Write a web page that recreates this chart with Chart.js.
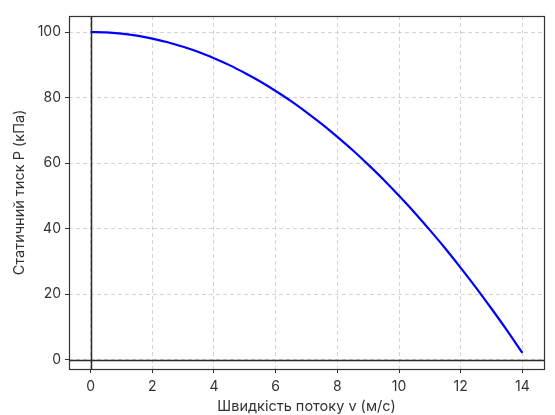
<!DOCTYPE html>
<html>
<head>
<meta charset="utf-8">
<script src="https://cdn.jsdelivr.net/npm/chart.js@4"></script>
<style>
  html, body { margin: 0; padding: 0; background: #fff; }
  #wrap { width: 555px; height: 415px; }
</style>
</head>
<body>
<div id="wrap"><canvas id="chart" width="555" height="415"></canvas></div>
<script>
// Velocity (m/s) and static pressure (kPa)
const velocity = [0, 0.5, 1, 1.5, 2, 2.5, 3, 3.5, 4, 4.5, 5, 5.5, 6, 6.5, 7,
                  7.5, 8, 8.5, 9, 9.5, 10, 10.5, 11, 11.5, 12, 12.5, 13, 13.5, 14];
const pressure = [100, 99.9, 99.5, 98.9, 98, 96.9, 95.5, 93.9, 92, 89.9, 87.5,
                  84.9, 82, 78.9, 75.5, 71.9, 68, 63.9, 59.5, 54.9, 50, 44.9,
                  39.5, 33.9, 28, 21.9, 15.5, 8.9, 2];
const xTicks = [0, 2, 4, 6, 8, 10, 12, 14];
const yTicks = [0, 20, 40, 60, 80, 100];

const xLabel = 'Швидкість потоку v (м/с)';
const yLabel = 'Статичний тиск P (кПа)';

const FONT = "Inter, 'DejaVu Sans', sans-serif";

// frame around the plot and the zero lines (axhline / axvline)
const framePlugin = {
    id: 'frame',
    afterDatasetsDraw(chart) {
        const { ctx, chartArea: a, scales } = chart;
        ctx.save();
        ctx.strokeStyle = '#2a2a2a';
        ctx.lineWidth = 1.5;
        const x0 = Math.round(scales.x.getPixelForValue(0)) + 0.5;
        const y0 = Math.round(scales.y.getPixelForValue(0)) + 0.5;
        ctx.beginPath();
        ctx.moveTo(x0, a.top); ctx.lineTo(x0, a.bottom);
        ctx.moveTo(a.left, y0); ctx.lineTo(a.right, y0);
        ctx.stroke();
        ctx.strokeStyle = '#333';
        ctx.lineWidth = 1.2;
        ctx.strokeRect(a.left + 0.5, a.top + 0.5, a.right - a.left, a.bottom - a.top);
        ctx.restore();
    }
};

const gridOpts = {
    color: '#d4d4d4',
    tickLength: 4,
    tickColor: '#333',
    tickBorderDash: []
};
const borderOpts = { display: false, dash: [4, 3] };

new Chart(document.getElementById('chart'), {
    type: 'line',
    data: {
        datasets: [{
            data: velocity.map((v, i) => ({ x: v, y: pressure[i] })),
            borderColor: '#0000ff',
            borderWidth: 2.2,
            pointRadius: 0,
            tension: 0.3,
            fill: false
        }]
    },
    options: {
        responsive: false,
        animation: false,
        layout: { padding: { top: 16, right: 11, left: 0, bottom: 0 } },
        plugins: { legend: { display: false }, tooltip: { enabled: false } },
        scales: {
            x: {
                type: 'linear',
                min: -0.7,
                max: 14.7,
                afterBuildTicks: s => { s.ticks = xTicks.map(v => ({ value: v })); },
                afterFit: s => { s.height = 46; },
                grid: gridOpts,
                border: borderOpts,
                ticks: { color: '#333', font: { family: FONT, size: 14 }, padding: 5 },
                title: {
                    display: true, text: xLabel, color: '#333',
                    font: { family: FONT, size: 14.5 }, padding: { top: 2, bottom: 0 }
                }
            },
            y: {
                type: 'linear',
                min: -2.9,
                max: 104.9,
                afterBuildTicks: s => { s.ticks = yTicks.map(v => ({ value: v })); },
                afterFit: s => { s.width = 69; },
                grid: gridOpts,
                border: borderOpts,
                ticks: { color: '#333', font: { family: FONT, size: 14 }, padding: 4 },
                title: {
                    display: true, text: yLabel, color: '#333',
                    font: { family: FONT, size: 14.5 }, padding: { top: 11, bottom: 4 }
                }
            }
        }
    },
    plugins: [framePlugin]
});
</script>
</body>
</html>
